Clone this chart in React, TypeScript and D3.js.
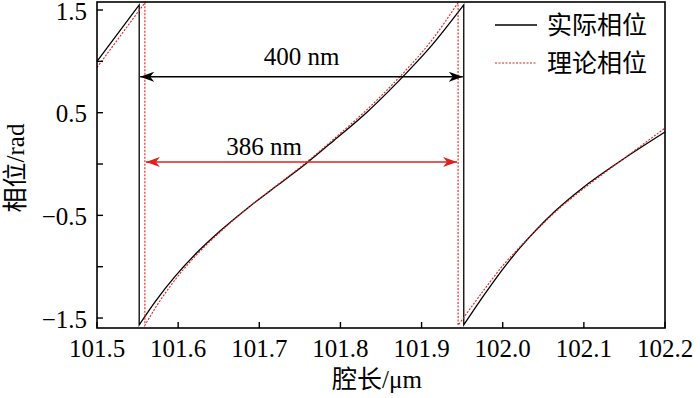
import * as d3 from 'd3'

// x in μm, phase in rad
const actualSegments: [number, number][][] = [
  [[101.5, 1.0], [101.552, 1.55]],
  [
    [101.552, -1.567], [101.572, -1.337], [101.597, -1.087], [101.622, -0.872],
    [101.652, -0.65], [101.687, -0.42], [101.722, -0.21], [101.757, 0.0],
    [101.792, 0.23], [101.832, 0.5], [101.872, 0.81], [101.912, 1.15], [101.952, 1.549],
  ],
  [
    [101.952, -1.567], [101.978, -1.265], [101.999, -1.035], [102.022, -0.81],
    [102.042, -0.635], [102.065, -0.455], [102.098, -0.235], [102.147, 0.04], [102.2, 0.312],
  ],
]

const theorySegments: [number, number][][] = [
  [[101.5, 0.94], [101.559, 1.571]],
  [
    [101.559, -1.571], [101.572, -1.4], [101.597, -1.12], [101.622, -0.89],
    [101.652, -0.66], [101.687, -0.42], [101.722, -0.205], [101.757, 0.01],
    [101.792, 0.245], [101.832, 0.525], [101.872, 0.84], [101.912, 1.2], [101.945, 1.571],
  ],
  [
    [101.945, -1.571], [101.978, -1.215], [101.999, -1.0], [102.022, -0.8],
    [102.042, -0.64], [102.065, -0.465], [102.098, -0.25], [102.147, 0.04], [102.2, 0.35],
  ],
]

const xTicks = [101.5, 101.6, 101.7, 101.8, 101.9, 102.0, 102.1, 102.2]
const yTicks = [-1.5, -1.0, -0.5, 0, 0.5, 1.0, 1.5]
const yLabelTicks = [-1.5, -0.5, 0.5, 1.5]

// period markers
const actualPeriod = { from: 101.552, to: 101.952, y: 0.85, label: '400 nm', labelX: 101.752 }
const theoryPeriod = { from: 101.559, to: 101.945, y: 0.02, label: '386 nm', labelX: 101.706 }

const legendItems = ['实际相位', '理论相位']

const RED = '#e0201e'
const FONT = 'Liberation Serif, DejaVu Serif, Noto Sans CJK SC, serif'

export default function App() {
  const width = 700
  const height = 398
  const plot = { left: 97, right: 665, top: 2, bottom: 328 }

  const x = d3.scaleLinear().domain([101.5, 102.2]).range([plot.left, plot.right])
  const y = d3.scaleLinear().domain([-1.597, 1.578]).range([plot.bottom, plot.top])

  const line = d3
    .line<[number, number]>()
    .x((d) => x(d[0]))
    .y((d) => y(d[1]))
    .curve(d3.curveMonotoneX)

  // join the segments with straight jumps (phase wrap)
  const pathOf = (segs: [number, number][][]) =>
    segs
      .map((s, i) => {
        const d = line(s)!
        return i === 0 ? d : 'L' + d.slice(1)
      })
      .join('')

  const fmtY = (v: number) => (v < 0 ? '\u2212' + Math.abs(v).toFixed(1) : v.toFixed(1))

  return (
    <svg
      width={width}
      height={height}
      style={{ position: 'absolute', left: 0, top: 0, background: '#fff', fontFamily: FONT }}
    >
      <defs>
        <marker id="ahBlack" viewBox="0 0 14 10" refX={14} refY={5} markerWidth={14} markerHeight={10}
          markerUnits="userSpaceOnUse" orient="auto-start-reverse">
          <path d="M0,0L14,5L0,10L4,5Z" fill="#000" />
        </marker>
        <marker id="ahRed" viewBox="0 0 14 10" refX={14} refY={5} markerWidth={14} markerHeight={10}
          markerUnits="userSpaceOnUse" orient="auto-start-reverse">
          <path d="M0,0L14,5L0,10L4,5Z" fill={RED} />
        </marker>
      </defs>

      {/* data lines */}
      <path d={pathOf(actualSegments)} fill="none" stroke="#000" strokeWidth={1.3} />
      <path d={pathOf(theorySegments)} fill="none" stroke={RED} strokeWidth={1.1} strokeDasharray="2,1.5" />

      {/* period arrows */}
      <line x1={x(actualPeriod.from) + 1} x2={x(actualPeriod.to) - 1} y1={y(actualPeriod.y)} y2={y(actualPeriod.y)}
        stroke="#000" strokeWidth={1.6} markerStart="url(#ahBlack)" markerEnd="url(#ahBlack)" />
      <text x={x(actualPeriod.labelX)} y={y(actualPeriod.y) - 12} textAnchor="middle" fontSize={25}>
        {actualPeriod.label}
      </text>
      <line x1={x(theoryPeriod.from) + 1} x2={x(theoryPeriod.to) - 1} y1={y(theoryPeriod.y)} y2={y(theoryPeriod.y)}
        stroke={RED} strokeWidth={1.6} markerStart="url(#ahRed)" markerEnd="url(#ahRed)" />
      <text x={x(theoryPeriod.labelX)} y={y(theoryPeriod.y) - 7} textAnchor="middle" fontSize={25}>
        {theoryPeriod.label}
      </text>

      {/* frame */}
      <rect x={plot.left} y={plot.top} width={plot.right - plot.left} height={plot.bottom - plot.top}
        fill="none" stroke="#000" strokeWidth={1.6} />

      {/* x axis */}
      <g fontSize={25} textAnchor="middle">
        {xTicks.map((t) => (
          <g key={t} transform={`translate(${x(t)},${plot.bottom})`}>
            <line y2={-6} stroke="#000" strokeWidth={1.4} />
            <text y={29}>{t.toFixed(1)}</text>
          </g>
        ))}
      </g>
      <text x={377} y={388} textAnchor="middle" fontSize={25}>腔长/μm</text>

      {/* y axis */}
      <g fontSize={25} textAnchor="end">
        {yTicks.map((t) => (
          <g key={t} transform={`translate(${plot.left},${y(t)})`}>
            <line x2={6} stroke="#000" strokeWidth={1.4} />
            {yLabelTicks.includes(t) && (
              <text x={-10} dy="0.38em">{fmtY(t)}</text>
            )}
          </g>
        ))}
      </g>
      <text transform={`translate(24,${168}) rotate(-90)`} textAnchor="middle" fontSize={25}>相位/rad</text>

      {/* legend */}
      <g fontSize={25}>
        {legendItems.map((name, i) => (
          <g key={name} transform={`translate(0,${25 + i * 38})`}>
            <line x1={495} x2={537} stroke={i === 0 ? '#000' : RED} strokeWidth={i === 0 ? 1.3 : 1.1}
              strokeDasharray={i === 0 ? undefined : '2,1.5'} />
            <text x={547} dy="0.35em">{name}</text>
          </g>
        ))}
      </g>
    </svg>
  )
}
